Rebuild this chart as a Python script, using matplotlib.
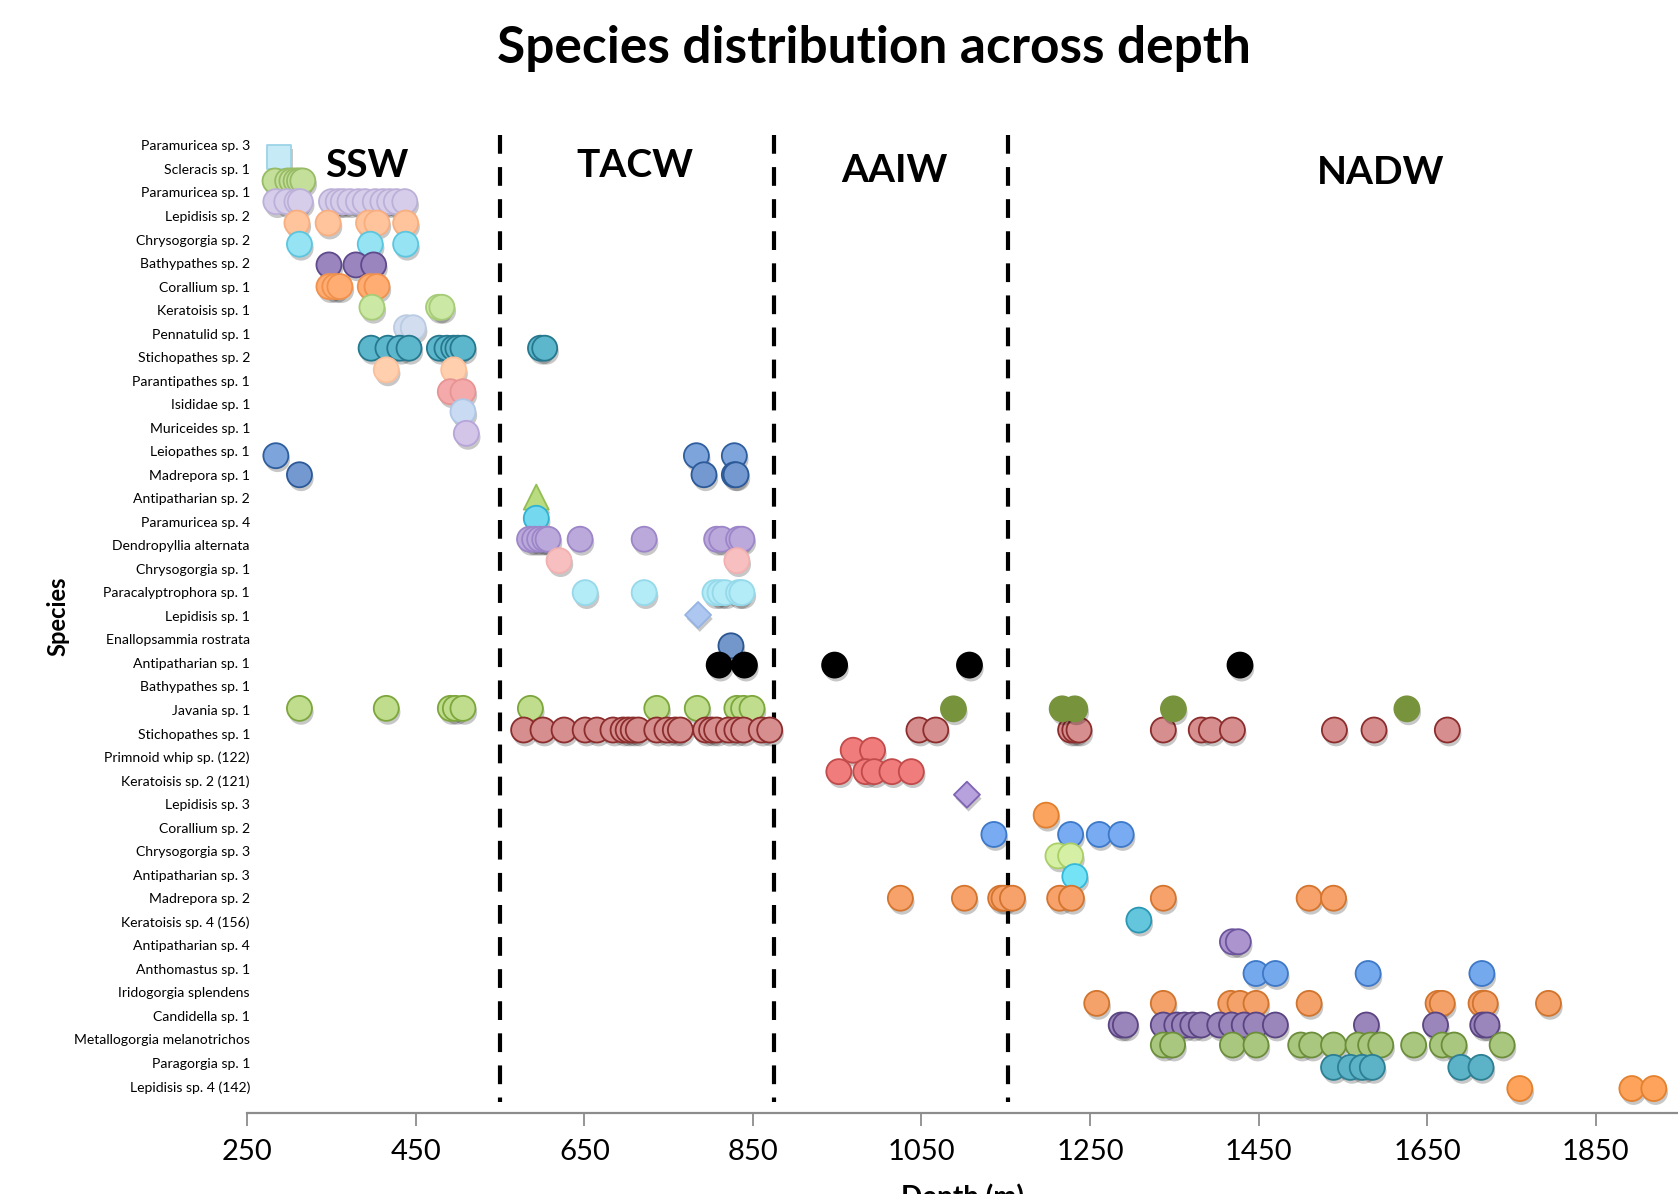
import matplotlib

matplotlib.use("Agg")
import matplotlib.pyplot as plt
import matplotlib.patheffects as pe

plt.rcParams["font.family"] = ["Lato", "DejaVu Sans"]

species = [
    "Paramuricea sp. 3", "Scleracis sp. 1", "Paramuricea sp. 1", "Lepidisis sp. 2",
    "Chrysogorgia sp. 2", "Bathypathes sp. 2", "Corallium sp. 1", "Keratoisis sp. 1",
    "Pennatulid sp. 1", "Stichopathes sp. 2", "Parantipathes sp. 1", "Isididae sp. 1",
    "Muriceides sp. 1", "Leiopathes sp. 1", "Madrepora sp. 1", "Antipatharian sp. 2",
    "Paramuricea sp. 4", "Dendropyllia alternata", "Chrysogorgia sp. 1",
    "Paracalyptrophora sp. 1", "Lepidisis sp. 1", "Enallopsammia rostrata",
    "Antipatharian sp. 1", "Bathypathes sp. 1", "Javania sp. 1", "Stichopathes sp. 1",
    "Primnoid whip sp. (122)", "Keratoisis sp. 2 (121)", "Lepidisis sp. 3",
    "Corallium sp. 2", "Chrysogorgia sp. 3", "Antipatharian sp. 3", "Madrepora sp. 2",
    "Keratoisis sp. 4 (156)", "Antipatharian sp. 4", "Anthomastus sp. 1",
    "Iridogorgia splendens", "Candidella sp. 1", "Metallogorgia melanotrichos",
    "Paragorgia sp. 1", "Lepidisis sp. 4 (142)",
]

depth_ticks = [250, 450, 650, 850, 1050, 1250, 1450, 1650, 1850]

water_masses = ["SSW", "TACW", "AAIW", "NADW"]
water_mass_depth = [392, 710, 1018, 1595]
water_mass_row = [0.86, 0.86, 1.05, 1.14]
water_mass_bounds = [550, 875, 1153]

# record depths (m), one list per plotted row
paramuricea_sp3 = [288]
scleracis_sp1 = [283, 298, 303, 308, 312, 316]
paramuricea_sp1 = [284, 297, 309, 313, 350, 358, 364, 372, 382, 390, 402, 411, 419, 427, 437]
lepidisis_sp2 = [309, 346, 394, 404, 438]
chrysogorgia_sp2 = [312, 396, 438]
bathypathes_sp2 = [347, 379, 400]
corallium_sp1 = [347, 354, 360, 396, 404]
keratoisis_sp1 = [398, 477, 481]
pennatulid_sp1 = [439, 447]
stichopathes_sp2 = [397, 417, 431, 442, 478, 487, 495, 500, 506, 598, 603]
parantipathes_sp1 = [415, 495]
isididae_sp1 = [491, 506]
muriceides_sp1 = [506]
muriceides_sp1b = [510]
leiopathes_sp1 = [284, 783, 828]
madrepora_sp1 = [312, 792, 828, 830]
antipatharian_sp2 = [593]
paramuricea_sp4 = [593]
dendropyllia_alternata = [585, 591, 597, 603, 607, 645, 721, 807, 813, 833, 837]
chrysogorgia_sp1 = [620, 831]
paracalyptrophora_sp1 = [651, 721, 805, 811, 817, 833, 837]
lepidisis_sp1 = [785]
enallopsammia_rostrata = [824]
antipatharian_sp1 = [810, 840, 947, 1107, 1428]
javania_sp1 = [312, 415, 491, 497, 506, 586, 736, 784, 831, 839, 849]
javania_sp1_deep = [1088, 1217, 1232, 1349, 1626]
stichopathes_sp1 = [578, 601, 626, 651, 665, 684, 696, 702, 708, 714, 736, 748, 758, 764,
                    794, 801, 807, 821, 831, 839, 860, 870, 1047, 1067, 1227, 1232, 1237,
                    1337, 1382, 1394, 1419, 1540, 1587, 1674]
primnoid_whip = [969, 992]
keratoisis_sp2 = [952, 984, 994, 1015, 1038]
lepidisis_sp3 = [1104]
corallium_sp2a = [1198]
corallium_sp2b = [1136, 1227, 1261, 1287]
chrysogorgia_sp3 = [1212, 1227]
antipatharian_sp3 = [1232]
madrepora_sp2 = [1025, 1101, 1144, 1148, 1158, 1214, 1228, 1337, 1510, 1539]
keratoisis_sp4 = [1308]
antipatharian_sp4 = [1419, 1426]
anthomastus_sp1 = [1447, 1470, 1580, 1715]
iridogorgia_splendens = [1258, 1337, 1417, 1428, 1447, 1510, 1663, 1668, 1714, 1719, 1794]
candidella_sp1 = [1287, 1292, 1337, 1353, 1362, 1372, 1382, 1404, 1418, 1433, 1447, 1470,
                  1578, 1660, 1716, 1721]
metallogorgia = [1337, 1348, 1419, 1447, 1500, 1513, 1539, 1568, 1583, 1595, 1634, 1668,
                 1682, 1739]
paragorgia_sp1 = [1539, 1559, 1573, 1585, 1690, 1714]
lepidisis_sp4 = [1760, 1893, 1919]

series = [
    paramuricea_sp3, scleracis_sp1, paramuricea_sp1, lepidisis_sp2, chrysogorgia_sp2,
    bathypathes_sp2, corallium_sp1, keratoisis_sp1, pennatulid_sp1, stichopathes_sp2,
    parantipathes_sp1, isididae_sp1, muriceides_sp1, muriceides_sp1b, leiopathes_sp1,
    madrepora_sp1, antipatharian_sp2, paramuricea_sp4, dendropyllia_alternata,
    chrysogorgia_sp1, paracalyptrophora_sp1, lepidisis_sp1, enallopsammia_rostrata,
    antipatharian_sp1, javania_sp1, stichopathes_sp1, javania_sp1_deep, primnoid_whip,
    keratoisis_sp2, lepidisis_sp3, corallium_sp2a, corallium_sp2b, chrysogorgia_sp3,
    antipatharian_sp3, madrepora_sp2, keratoisis_sp4, antipatharian_sp4, anthomastus_sp1,
    iridogorgia_splendens, candidella_sp1, metallogorgia, paragorgia_sp1, lepidisis_sp4,
]
# row on the species axis each list sits on (0 = top label)
series_rows = [
    0.5, 1.51, 2.39, 3.3, 4.2, 5.08, 6.0, 6.88, 7.75, 8.62, 9.54, 10.47, 11.32, 12.24,
    13.19, 14.0, 14.95, 15.85, 16.74, 17.65, 19.01, 19.96, 21.27, 22.09, 23.93, 24.85,
    23.95, 25.71, 26.62, 27.6, 28.47, 29.29, 30.2, 31.08, 32.0, 32.93, 33.85, 35.2,
    36.47, 37.39, 38.24, 39.19, 40.09,
]

# marker, face, edge
styles = [
    ("s", "#C6EBF6", "#9DD3E6"), ("o", "#C4DF9A", "#98BB66"), ("o", "#D6CDEA", "#BCB0D8"),
    ("o", "#FFC49C", "#F7AE80"), ("o", "#96E3F4", "#5CC6DF"), ("o", "#9A85BF", "#5F4A8C"),
    ("o", "#FFAD72", "#F0914E"), ("o", "#CBE8A4", "#A6CC78"), ("o", "#D2DEF0", "#BACBE2"),
    ("o", "#5DB7CC", "#26788E"), ("o", "#FFCFAE", "#FBC09B"), ("o", "#F4AAAA", "#E89494"),
    ("o", "#C9DBF3", "#AFC6E6"), ("o", "#D3C5E8", "#B7A4D8"), ("o", "#7EA4DC", "#2F5E9E"),
    ("o", "#7399D0", "#2C5998"), ("^", "#B9DC80", "#93BD55"), ("o", "#74D8EF", "#31B2D2"),
    ("o", "#BCA9DC", "#9C86C8"), ("o", "#F7BFBF", "#F2B0B0"), ("o", "#B3EBF7", "#95D9EA"),
    ("D", "#ADC7F0", "#95B4E4"), ("o", "#7396CB", "#2C5690"), ("o", "#000000", "#000000"),
    ("o", "#BFDD8D", "#7DA63C"), ("o", "#D78E8E", "#8C2D2D"), ("o", "#77933C", "#77933C"),
    ("o", "#F07C7C", "#C24A4A"), ("o", "#F07C7C", "#C24A4A"), ("D", "#B7A2DD", "#7F63B4"),
    ("o", "#FBA45F", "#E07F2E"), ("o", "#78ABF2", "#3D79C8"), ("o", "#D5F0A4", "#A9CF66"),
    ("o", "#75E3F6", "#34B9D8"), ("o", "#F7A26A", "#D3752F"), ("o", "#63C6DC", "#2A97B4"),
    ("o", "#AC95CE", "#6C559C"), ("o", "#74A9EE", "#3E78C6"), ("o", "#F4A16A", "#D0742E"),
    ("o", "#9A86BB", "#5A4482"), ("o", "#A9C77E", "#6C8E3A"), ("o", "#5CB2C6", "#2D7F94"),
    ("o", "#FDA35C", "#E3812F"),
]
marker_area = {"o": 324, "s": 290, "^": 324, "D": 175}

W, H = 1678, 1194
fig = plt.figure(figsize=(W / 100, H / 100), dpi=100)
ax = fig.add_axes([247.2 / W, 1 - 1113 / H, 1 - 247.2 / W, (1113 - 120) / H])
ax.set_xlim(250, 1947.7)
ax.set_ylim(41.13, -1.08)

shadow = [pe.SimplePatchShadow(offset=(1.2, -2.8), shadow_rgbFace="k", alpha=0.22), pe.Normal()]
for depths, row, (mk, face, edge) in zip(series, series_rows, styles):
    ax.scatter(depths, [row] * len(depths), s=marker_area[mk], marker=mk, c=face,
               edgecolors=edge, linewidths=1.3, zorder=3, path_effects=shadow)

ax.vlines(water_mass_bounds, -0.45, 40.65, colors="black", linewidth=3,
          linestyles=(0, (4.5, 3.2)), zorder=2)
for name, d, r in zip(water_masses, water_mass_depth, water_mass_row):
    ax.text(d, r, name, fontsize=28, fontweight="bold", ha="center", va="center")

for side in ("top", "right", "left"):
    ax.spines[side].set_visible(False)
ax.spines["bottom"].set_color("#8C8C8C")
ax.spines["bottom"].set_linewidth(1.6)

ax.set_xticks(depth_ticks)
ax.tick_params(axis="x", direction="out", length=9, width=1.3, color="#8C8C8C",
               labelsize=21, pad=10)
ax.set_yticks(range(len(species)))
ax.set_yticklabels(species)
ax.tick_params(axis="y", length=0, labelsize=10.1, pad=-2)

ax.set_xlabel("Depth (m)", fontsize=20, fontweight="bold")
ax.xaxis.set_label_coords(0.5, -0.0705)
ax.set_ylabel("Species", fontsize=17, fontweight="bold")
ax.yaxis.set_label_coords(-0.1245, 0.5006)

fig.text(0.521, 1 - 48 / H, "Species distribution across depth", fontsize=37,
         fontweight="bold", ha="center", va="center")

fig.savefig("out.png", dpi=100)
